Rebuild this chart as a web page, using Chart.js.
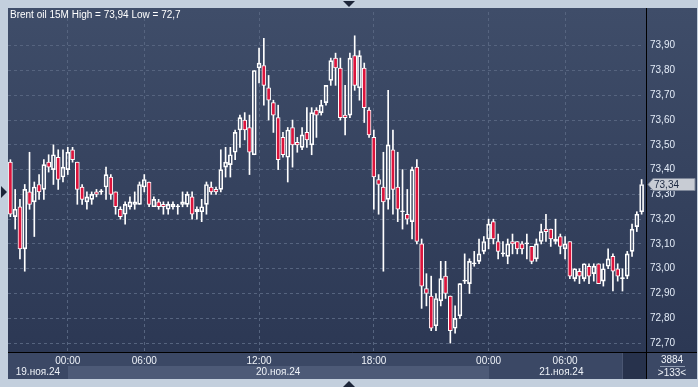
<!DOCTYPE html>
<html>
<head>
<meta charset="utf-8">
<script src="https://cdn.jsdelivr.net/npm/chart.js@4.4.1/dist/chart.umd.min.js"></script>
<style>
  html, body { margin: 0; padding: 0; background: #c3cfdd; }
  canvas { display: block; }
</style>
</head>
<body>
<canvas id="myChart" width="698" height="387"></canvas>
<script>
// Brent oil, 15 minute candles, 19.11.24 21:00 -> 21.11.24 10:00
const opens = [73.43, 73.21, 73.25, 73.08, 73.31, 73.27, 73.34, 73.32, 73.43, 73.40,
  73.45, 73.37, 73.40, 73.48, 73.43, 73.33, 73.27, 73.28, 73.31, 73.31,
  73.33, 73.37, 73.31, 73.24, 73.22, 73.25, 73.26, 73.26, 73.33, 73.35,
  73.25, 73.27, 73.26, 73.24, 73.25, 73.25, 73.26, 73.26, 73.29, 73.23,
  73.23, 73.26, 73.33, 73.32, 73.32, 73.41, 73.42, 73.47, 73.56, 73.60,
  73.57, 73.46, 73.81, 73.82, 73.73, 73.67, 73.61, 73.53, 73.45, 73.57,
  73.51, 73.49, 73.55, 73.50, 73.64, 73.63, 73.67, 73.76, 73.85, 73.81,
  73.62, 73.62, 73.86, 73.73, 73.81, 73.64, 73.53, 73.36, 73.33, 73.28,
  73.48, 73.33, 73.23, 73.22, 73.19, 73.41, 73.10, 72.92, 72.89, 72.77,
  72.87, 72.97, 72.89, 72.76, 72.81, 72.95, 72.94, 73.02, 73.03, 73.07,
  73.12, 73.19, 73.11, 73.06, 73.05, 73.11, 73.11, 73.10, 73.10, 73.09,
  73.04, 73.11, 73.16, 73.16, 73.11, 73.13, 73.08, 73.11, 72.96, 72.99,
  72.96, 73.01, 72.98, 73.02, 72.95, 73.01, 73.05, 73.00, 72.96, 72.97,
  73.07, 73.17, 73.23];
const highs = [73.44, 73.32, 73.28, 73.34, 73.47, 73.35, 73.38, 73.44, 73.46, 73.50,
  73.48, 73.48, 73.49, 73.49, 73.43, 73.34, 73.31, 73.31, 73.32, 73.32,
  73.41, 73.38, 73.31, 73.25, 73.27, 73.29, 73.31, 73.35, 73.38, 73.35,
  73.29, 73.28, 73.27, 73.27, 73.27, 73.26, 73.31, 73.31, 73.31, 73.25,
  73.28, 73.35, 73.35, 73.33, 73.48, 73.49, 73.49, 73.56, 73.62, 73.63,
  73.62, 73.80, 73.89, 73.93, 73.78, 73.68, 73.66, 73.55, 73.57, 73.60,
  73.53, 73.57, 73.65, 73.65, 73.65, 73.68, 73.74, 73.85, 73.87, 73.85,
  73.74, 73.87, 73.94, 73.88, 73.83, 73.65, 73.56, 73.38, 73.47, 73.72,
  73.56, 73.47, 73.40, 73.32, 73.41, 73.44, 73.12, 72.98, 72.97, 72.90,
  73.03, 73.03, 72.89, 72.85, 72.94, 73.06, 73.04, 73.07, 73.12, 73.13,
  73.20, 73.20, 73.14, 73.11, 73.12, 73.14, 73.11, 73.11, 73.14, 73.09,
  73.12, 73.18, 73.22, 73.16, 73.20, 73.14, 73.13, 73.11, 73.00, 73.00,
  73.02, 73.02, 73.02, 73.02, 73.02, 73.08, 73.06, 73.02, 73.00, 73.07,
  73.18, 73.23, 73.36];
const lows = [73.21, 73.16, 73.04, 72.99, 73.24, 73.13, 73.28, 73.28, 73.39, 73.34,
  73.32, 73.35, 73.38, 73.43, 73.26, 73.26, 73.24, 73.26, 73.29, 73.30,
  73.28, 73.28, 73.22, 73.20, 73.18, 73.24, 73.24, 73.26, 73.31, 73.25,
  73.25, 73.24, 73.22, 73.22, 73.24, 73.22, 73.25, 73.25, 73.20, 73.20,
  73.19, 73.22, 73.30, 73.30, 73.31, 73.37, 73.37, 73.44, 73.49, 73.52,
  73.38, 73.46, 73.75, 73.66, 73.60, 73.55, 73.40, 73.45, 73.35, 73.41,
  73.47, 73.48, 73.49, 73.46, 73.53, 73.62, 73.66, 73.74, 73.74, 73.60,
  73.54, 73.61, 73.72, 73.68, 73.59, 73.53, 73.24, 73.22, 72.99, 73.24,
  73.22, 73.19, 73.16, 73.18, 73.12, 73.10, 72.84, 72.85, 72.75, 72.75,
  72.85, 72.88, 72.70, 72.74, 72.80, 72.94, 72.90, 73.01, 73.02, 73.06,
  73.08, 73.10, 73.04, 73.05, 73.02, 73.06, 73.06, 73.06, 73.04, 73.02,
  73.03, 73.10, 73.11, 73.09, 73.10, 73.06, 73.04, 72.96, 72.95, 72.94,
  72.95, 72.94, 72.95, 72.94, 72.93, 73.00, 72.91, 72.95, 72.91, 72.96,
  73.05, 73.15, 73.22];
const closes = [73.22, 73.24, 73.08, 73.32, 73.26, 73.33, 73.31, 73.42, 73.41, 73.46,
  73.36, 73.41, 73.47, 73.44, 73.32, 73.28, 73.29, 73.30, 73.30, 73.31,
  73.38, 73.30, 73.25, 73.21, 73.26, 73.27, 73.27, 73.34, 73.36, 73.26,
  73.28, 73.25, 73.25, 73.26, 73.26, 73.25, 73.27, 73.30, 73.22, 73.24,
  73.25, 73.34, 73.31, 73.31, 73.40, 73.43, 73.46, 73.55, 73.61, 73.56,
  73.47, 73.80, 73.83, 73.74, 73.68, 73.62, 73.44, 73.46, 73.56, 73.50,
  73.50, 73.54, 73.52, 73.63, 73.62, 73.66, 73.74, 73.84, 73.81, 73.61,
  73.61, 73.85, 73.74, 73.86, 73.65, 73.54, 73.37, 73.34, 73.27, 73.50,
  73.32, 73.24, 73.23, 73.20, 73.40, 73.11, 72.93, 72.90, 72.76, 72.88,
  72.96, 72.90, 72.75, 72.80, 72.94, 72.95, 73.03, 73.02, 73.06, 73.11,
  73.18, 73.12, 73.07, 73.06, 73.10, 73.10, 73.08, 73.08, 73.10, 73.03,
  73.10, 73.15, 73.15, 73.12, 73.12, 73.09, 73.10, 72.97, 73.00, 72.97,
  73.02, 72.97, 73.01, 72.94, 73.00, 73.04, 72.99, 72.97, 72.96, 73.06,
  73.16, 73.22, 73.34];

const yTicks = [72.7, 72.8, 72.9, 73.0, 73.1, 73.2, 73.3, 73.4, 73.5, 73.6, 73.7, 73.8, 73.9];
const timeTickIndex = [12, 28, 52, 76, 100, 116];
const timeTickLabels = ['00:00', '06:00', '12:00', '18:00', '00:00', '06:00'];
const dayStartIndex = [0, 12, 100];
const dayLabels = ['19.ноя.24', '20.ноя.24', '21.ноя.24'];
const titleText = 'Brent oil 15M High = 73,94 Low = 72,7';
const barsTotal = '3884';
const barsVisible = '>133<';

const FONT = "'Liberation Sans', Arial, sans-serif";
const RED = '#dc143c';
const GRID = '#56647f';

const labels = opens.map((o, i) => String(i));
const bodyLow = opens.map((o, i) => Math.min(o, closes[i]));
const bodyHigh = opens.map((o, i) => Math.max(o, closes[i]));
const upperWicks = highs.map((h, i) => [bodyHigh[i], h]);
const lowerWicks = lows.map((l, i) => [l, bodyLow[i]]);
const bodies = opens.map((o, i) => [bodyLow[i], bodyHigh[i]]);
const bodyFill = opens.map((o, i) => closes[i] < o ? RED : (closes[i] === o ? '#ffffff' : 'rgba(0,0,0,0)'));

const fmt = v => v.toFixed(2).replace('.', ',');

function tri(c, pts, color) {
    c.fillStyle = color;
    c.beginPath();
    c.moveTo(pts[0], pts[1]);
    c.lineTo(pts[2], pts[3]);
    c.lineTo(pts[4], pts[5]);
    c.closePath();
    c.fill();
}

// frame, bottom bars, markers
const terminalFrame = {
    id: 'terminalFrame',
    beforeDraw(chart) {
        const c = chart.ctx;
        const xs = chart.scales.x;
        c.save();
        c.fillStyle = '#c3cfdd';
        c.fillRect(0, 0, chart.width, chart.height);

        const g = c.createLinearGradient(0, 8, 0, 352);
        g.addColorStop(0, '#3f4d69');
        g.addColorStop(1, '#2c3854');
        c.fillStyle = g;
        c.fillRect(8, 8, 689, 345);

        // time row + date row
        c.fillStyle = '#3b4865';
        c.fillRect(8, 353, 689, 26);
        let prev = 8;
        dayStartIndex.forEach((start, k) => {
            const x0 = k === 0 ? 8 : Math.round(xs.getPixelForValue(start));
            const x1 = k < dayStartIndex.length - 1 ? Math.round(xs.getPixelForValue(dayStartIndex[k + 1])) : 623;
            c.fillStyle = k % 2 === 1 ? '#4d5a77' : '#3b4865';
            c.fillRect(x0, 366, x1 - x0, 13);
        });
        // scroll thumb
        c.fillStyle = '#27324c';
        c.fillRect(623, 353, 23, 26);
        c.fillStyle = '#4a5672';
        c.fillRect(622, 353, 1, 26);

        // arrows on the outer frame
        tri(c, [343, 1, 355, 1, 349, 7], '#1c2538');
        tri(c, [343, 387, 355, 387, 349, 381], '#1c2538');
        tri(c, [1, 186, 1, 198, 7, 192], '#1c2538');
        c.restore();
    },
    afterDraw(chart) {
        const c = chart.ctx;
        const xs = chart.scales.x;
        const ys = chart.scales.y;
        c.save();
        // separators
        c.strokeStyle = '#000000';
        c.lineWidth = 1;
        c.beginPath();
        c.moveTo(646.5, 8);
        c.lineTo(646.5, 379);
        c.moveTo(8, 352.5);
        c.lineTo(697, 352.5);
        c.stroke();

        // title
        c.fillStyle = '#ffffff';
        c.font = '10px ' + FONT;
        c.textBaseline = 'middle';
        c.textAlign = 'left';
        c.fillText(titleText, 10, 15);

        // day labels
        c.textAlign = 'center';
        c.fillStyle = '#eef2f8';
        dayStartIndex.forEach((start, k) => {
            const x0 = k === 0 ? 8 : xs.getPixelForValue(start);
            const x1 = k < dayStartIndex.length - 1 ? xs.getPixelForValue(dayStartIndex[k + 1]) : 634;
            c.fillText(dayLabels[k], (x0 + x1) / 2, 372.5);
        });

        // bars counter
        c.fillText(barsTotal, 672, 360);
        c.fillText(barsVisible, 672, 373);
        c.fillStyle = '#8e9ab0';
        c.fillRect(660, 366, 25, 1);

        // last price marker
        const last = closes[closes.length - 1];
        const py = Math.round(ys.getPixelForValue(last)) + 0.5;
        c.fillStyle = '#c8ccd4';
        c.strokeStyle = '#7d8698';
        c.beginPath();
        c.moveTo(648, py);
        c.lineTo(653, py - 6);
        c.lineTo(695, py - 6);
        c.lineTo(695, py + 6);
        c.lineTo(653, py + 6);
        c.closePath();
        c.fill();
        c.stroke();
        c.fillStyle = '#1b2740';
        c.textAlign = 'left';
        c.fillText(fmt(last), 654, py + 0.5);
        c.restore();
    }
};

const ctx = document.getElementById('myChart').getContext('2d');

const myChart = new Chart(ctx, {
    type: 'bar',
    data: {
        labels: labels,
        datasets: [
            {
                data: upperWicks,
                backgroundColor: '#ffffff',
                barThickness: 1,
                grouped: false,
                order: 2
            },
            {
                data: lowerWicks,
                backgroundColor: '#ffffff',
                barThickness: 1,
                grouped: false,
                order: 2
            },
            {
                data: bodies,
                backgroundColor: bodyFill,
                borderColor: '#ffffff',
                borderWidth: 1,
                borderSkipped: false,
                barThickness: 4,
                minBarLength: 1,
                grouped: false,
                order: 1
            }
        ]
    },
    options: {
        responsive: false,
        animation: false,
        devicePixelRatio: 1,
        layout: { padding: { left: 8, top: 8, right: 1, bottom: 8 } },
        scales: {
            x: {
                offset: true,
                grid: { offset: false, color: GRID, drawTicks: false },
                border: { display: false, dash: [3, 3] },
                ticks: {
                    autoSkip: false,
                    maxRotation: 0,
                    padding: 3,
                    color: '#eef2f8',
                    font: { size: 10, family: FONT },
                    callback: (v, i) => timeTickLabels[i]
                },
                afterBuildTicks: s => { s.ticks = timeTickIndex.map(v => ({ value: v })); },
                afterFit: s => { s.height = 27; }
            },
            y: {
                position: 'right',
                min: 72.664,
                max: 74.036,
                grid: { color: GRID, drawTicks: false },
                border: { display: false, dash: [3, 3] },
                ticks: {
                    padding: 6,
                    color: '#e4ecf8',
                    font: { size: 10, family: FONT },
                    callback: v => fmt(v)
                },
                afterBuildTicks: s => { s.ticks = yTicks.map(v => ({ value: v })); },
                afterFit: s => { s.width = 53; }
            }
        },
        plugins: {
            legend: { display: false },
            tooltip: { enabled: false }
        }
    },
    plugins: [terminalFrame]
});
</script>
</body>
</html>
